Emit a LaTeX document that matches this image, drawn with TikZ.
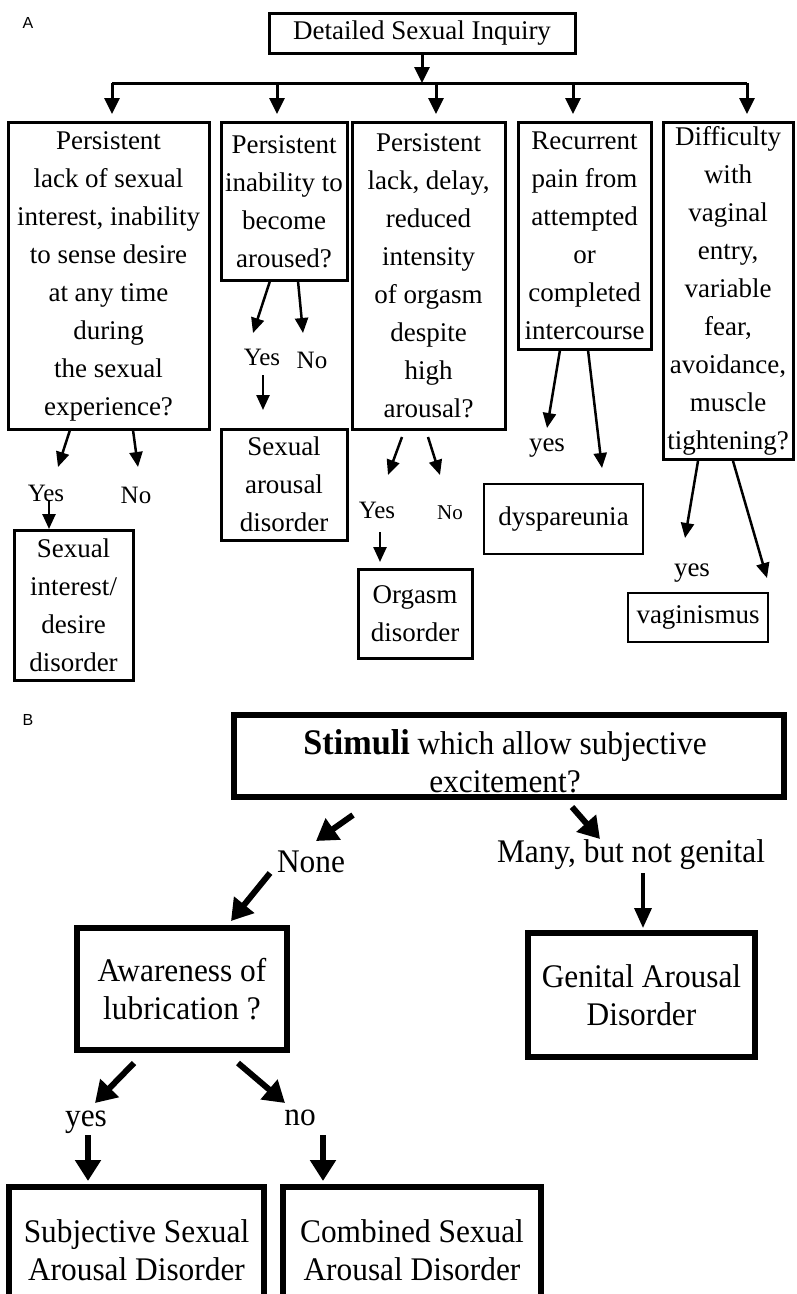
\documentclass[tikz,border=0pt]{standalone}
\usepackage{fontspec}
\setmainfont{Liberation Serif}
\newfontfamily\labfont{Liberation Sans}
\newfontfamily\bserif[FakeStretch=0.95]{Liberation Serif}
\usetikzlibrary{arrows.meta}
\begin{document}
\begin{tikzpicture}[x=1pt,y=-1pt,
  fa/.style={font=\fontsize{27}{38}\selectfont},
  fb/.style={font=\bserif\fontsize{33}{38}\selectfont},
  abox/.style={draw, line width=3pt, align=center, inner sep=0pt, fa},
  tbox/.style={draw, line width=1.3pt, align=center, inner sep=0pt, fa},
  bbox/.style={draw, line width=6pt, align=center, inner sep=0pt, fb},
  alab/.style={inner sep=0pt, font=\fontsize{25}{30}\selectfont},
  blab/.style={inner sep=0pt, fb},
  panel/.style={inner sep=0pt, font=\labfont\fontsize{16}{18}\selectfont},
  aarr/.style={-{Triangle[length=15pt,width=13pt]}, line width=2.5pt},
  tarr/.style={-{Triangle[length=16pt,width=15pt]}, line width=3pt},
  barr/.style={-{Triangle[length=21pt,width=25pt]}, line width=6pt}
]
\useasboundingbox (0,0) rectangle (796,1294);
\fill[white] (0,0) rectangle (796,1294);

% ---------- Panel A ----------
\node[panel] (pa) at (28,23) {A};
\node[abox, minimum width=306pt, minimum height=40pt] (top) at (422,33) {Detailed Sexual Inquiry};

\node[abox, minimum width=201pt, minimum height=307pt] (b1) at (108.5,276)
  {Persistent\\lack of sexual\\interest, inability\\to sense desire\\at any time\\during\\the sexual\\experience?};
\node[abox, minimum width=126pt, minimum height=158pt] (b2) at (284,201.5)
  {Persistent\\inability to\\become\\aroused?};
\node[abox, minimum width=153pt, minimum height=307pt] (b3) at (428.5,276)
  {Persistent\\lack, delay,\\reduced\\intensity\\of orgasm\\despite\\high\\arousal?};
\node[abox, minimum width=133pt, minimum height=227pt] (b4) at (584.5,236)
  {Recurrent\\pain from\\attempted\\or\\completed\\intercourse};
\node[abox, minimum width=130pt, minimum height=337pt] (b5) at (728,291)
  {Difficulty\\with\\vaginal\\entry,\\variable\\fear,\\avoidance,\\muscle\\tightening?};

\node[abox, minimum width=119pt, minimum height=150pt] (r1) at (73.5,605)
  {Sexual\\interest/\\desire\\disorder};
\node[abox, minimum width=126pt, minimum height=111pt] (r2) at (284,484.5)
  {Sexual\\arousal\\disorder};
\node[abox, minimum width=114pt, minimum height=89pt] (r3) at (415,613.5)
  {Orgasm\\disorder};
\node[tbox, minimum width=159pt, minimum height=70pt] (r4) at (563.5,519) {dyspareunia};
\node[tbox, minimum width=140pt, minimum height=49pt] (r5) at (698,617.5) {vaginismus};

\node[alab] (y1) at (46,493) {Yes};
\node[alab] (n1) at (136,495) {No};
\node[alab] (y2) at (262,357) {Yes};
\node[alab] (n2) at (312,360) {No};
\node[alab] (y3) at (377,510) {Yes};
\node[inner sep=0pt, font=\fontsize{21}{25}\selectfont] (n3) at (450,513) {No};
\node[alab, font=\fontsize{27}{30}\selectfont] (y4) at (547,448) {yes};
\node[alab, font=\fontsize{27}{30}\selectfont] (y5) at (692,573) {yes};

% tree from top box
\coordinate (hm) at (422,83);
\coordinate (hl) at (112,83);
\coordinate (hr) at (747,83);
\draw[tarr] (top.south) -- (hm);
\draw[line width=3pt] (hl) -- (hr);
\foreach \x/\b in {112/b1,277/b2,436/b3,573/b4,747/b5}{
  \coordinate (s\b) at (\x,83);
  \coordinate (e\b) at (\x,114);
  \draw[tarr] (s\b) -- (e\b);
}

% answer arrows
\coordinate (a1s) at (70,430);  \coordinate (a1e) at (58,467);
\coordinate (a2s) at (133,430); \coordinate (a2e) at (138,467);
\draw[aarr] (a1s) -- (a1e);
\draw[aarr] (a2s) -- (a2e);
\coordinate (a3s) at (49,500);  \coordinate (a3e) at (49,529);
\draw[aarr] (a3s) -- (a3e);

\coordinate (c1s) at (270,281); \coordinate (c1e) at (253,333);
\coordinate (c2s) at (298,281); \coordinate (c2e) at (303,333);
\draw[aarr] (c1s) -- (c1e);
\draw[aarr] (c2s) -- (c2e);
\coordinate (c3s) at (263,375); \coordinate (c3e) at (263,410);
\draw[aarr] (c3s) -- (c3e);

\coordinate (d1s) at (402,437); \coordinate (d1e) at (388,475);
\coordinate (d2s) at (428,437); \coordinate (d2e) at (440,475);
\draw[aarr] (d1s) -- (d1e);
\draw[aarr] (d2s) -- (d2e);
\coordinate (d3s) at (380,532); \coordinate (d3e) at (380,562);
\draw[aarr] (d3s) -- (d3e);

\coordinate (f1s) at (560,350); \coordinate (f1e) at (547,428);
\coordinate (f2s) at (588,350); \coordinate (f2e) at (602,468);
\draw[aarr] (f1s) -- (f1e);
\draw[aarr] (f2s) -- (f2e);

\coordinate (g1s) at (698,461); \coordinate (g1e) at (685,538);
\coordinate (g2s) at (733,461); \coordinate (g2e) at (767,578);
\draw[aarr] (g1s) -- (g1e);
\draw[aarr] (g2s) -- (g2e);

% ---------- Panel B ----------
\node[panel] (pb) at (28,720) {B};
\node[bbox, minimum width=550pt, minimum height=82pt] (st) at (509,756) {};
\node[inner sep=0pt, align=center, font=\bserif\fontsize{33}{38}\selectfont] (stt) at (505,761)
  {{\fontsize{36}{38}\selectfont\bfseries Stimuli} which allow subjective\\excitement?};

\node[blab] (none) at (311,862) {None};
\node[blab] (many) at (631,855) {Many, but not genital};

\node[bbox, minimum width=210pt, minimum height=122pt] (aw) at (182,989)
  {Awareness of\\lubrication ?};
\node[bbox, minimum width=227pt, minimum height=124pt] (ge) at (641.5,995)
  {Genital Arousal\\Disorder};

\node[blab] (yb) at (86,1122) {yes};
\node[blab] (nb) at (300,1118) {no};

\node[bbox, minimum width=255pt, minimum height=126pt] (su) at (136.5,1250)
  {Subjective Sexual\\Arousal Disorder};
\node[bbox, minimum width=258pt, minimum height=126pt] (co) at (412,1250)
  {Combined Sexual\\Arousal Disorder};

\coordinate (p1s) at (353,815); \coordinate (p1e) at (316,841);
\coordinate (p2s) at (572,807); \coordinate (p2e) at (600,839);
\draw[barr] (p1s) -- (p1e);
\draw[barr] (p2s) -- (p2e);
\coordinate (p3s) at (270,873); \coordinate (p3e) at (231,921);
\coordinate (p4s) at (643,873); \coordinate (p4e) at (643,928);
\draw[barr] (p3s) -- (p3e);
\draw[line width=3.5pt, -{Triangle[length=20pt,width=17pt]}] (p4s) -- (p4e);
\coordinate (q1s) at (134,1063); \coordinate (q1e) at (95,1103);
\coordinate (q2s) at (238,1063); \coordinate (q2e) at (285,1103);
\draw[barr] (q1s) -- (q1e);
\draw[barr] (q2s) -- (q2e);
\coordinate (q3s) at (88,1135);  \coordinate (q3e) at (88,1181);
\coordinate (q4s) at (323,1135); \coordinate (q4e) at (323,1181);
\draw[barr] (q3s) -- (q3e);
\draw[barr] (q4s) -- (q4e);
\end{tikzpicture}
\end{document}
